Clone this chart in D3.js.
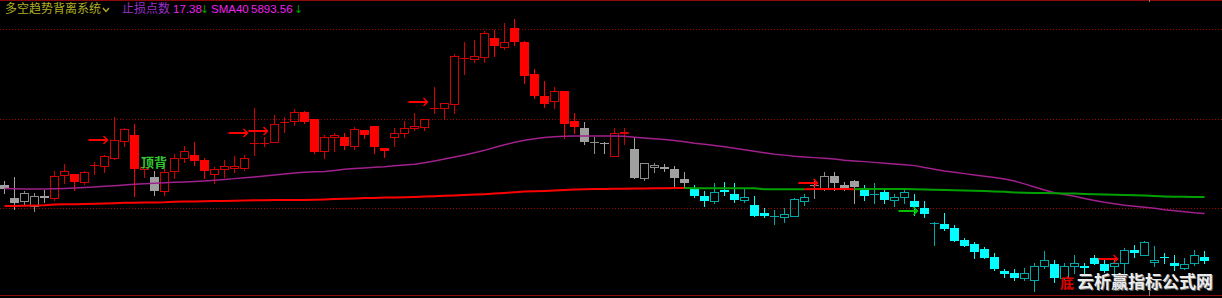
<!DOCTYPE html>
<html><head><meta charset="utf-8">
<script src="https://cdn.jsdelivr.net/npm/d3@7"></script>
<style>html,body{margin:0;padding:0;background:#000;overflow:hidden}</style>
</head><body>
<svg id="c" width="1222" height="298"></svg>
<script>
// ---- data (one entry per bar) ----
const openP = [
5922,5909.5,5906,5901.5,5911,5909.5,5932.5,5932.7,5925.3,5942,
5941,5948.7,5966.3,5972,5938,5930.3,5916.3,5936,5948.7,5952,
5947,5933,5938,5939.3,5939.3,5963.7,5963.7,5964.7,5985.3,5986,
5995.3,5988,5956,5969.7,5970.3,5961.3,5977,5981,5959.3,5969.7,
5973.7,5979.3,5980.3,5998.7,5998.7,6002.7,6048.7,6048.3,6050.3,6068.7,
6059.7,6079.3,6065.3,6032.7,6011,6006,6016.3,5986,5979.3,5964.7,
5964.5,5951.5,5973.7,5957.7,5929,5939.7,5940,5938,5927.7,5917.7,
5911,5906,5917,5912.7,5907,5902,5893.7,5891.3,5889.7,5891.3,
5906,5922.5,5918.7,5931,5922,5926,5919.3,5913,5914.7,5907,
5909.7,5906,5898.7,5883.7,5882.7,5878.7,5867,5863,5857.7,5849.7,
5836,5833.7,5828.7,5827,5841.3,5843,5828.7,5841.3,5841,5848.7,
5843,5841.3,5843.7,5857,5852,5844.7,5850,5844.3,5839.3,5843.7,
5849.7];
const highP = [
5926,5930,5916,5914.5,5917,5936,5943,5933.5,5936,5945.5,
5952,5990.3,5979.3,5983,5942,5936,5940,5953,5961,5964.7,
5949,5940,5947,5951,5952,5998.7,5970,5992,5990.3,5997.7,
5996,5988.5,5972,5974.3,5973.7,5979.7,5977.5,5981.5,5959.5,5979.3,
5986,5993.7,5988.5,6019.7,6004,6052.7,6065.3,6067,6076.3,6077,
6084.3,6088,6065.7,6037.7,6026,6019.7,6016.5,5993.7,5984.7,5970,
5965,5979.5,5979.5,5970,5944,5943.7,5942.7,5941,5934.7,5922,
5916,5923.7,5925.3,5923.7,5918,5911,5898.7,5897,5898.7,5909.3,
5913,5926,5934.7,5934.7,5925.3,5927,5922,5924.3,5917.7,5913,
5918.7,5912.7,5906,5885.3,5893.7,5882,5868.7,5865.3,5859.7,5853.7,
5838,5838,5839.3,5843.7,5856.3,5847,5844,5852,5843.7,5852,
5847,5847,5859.3,5862,5866.3,5861,5853.7,5852,5848.7,5857,
5856];
const lowP = [
5914.5,5898,5902,5896.5,5905,5907,5924,5917,5923.5,5933,
5935,5948,5961.3,5911,5930,5912,5912,5928.7,5945.3,5942,
5928.7,5923.7,5930.3,5935.3,5937,5952,5961,5964.7,5975.3,5982,
5983.7,5953.7,5948.7,5956,5958,5958,5968.7,5953.7,5950.3,5961.3,
5970.3,5977,5977,5993.7,5988,5993.7,6032.7,6045.3,6045.3,6051,
6057.7,6062,6024.3,6009.3,6000.3,5998.7,5968.7,5973.7,5962.7,5953.7,
5953.7,5951.5,5963.5,5928.7,5927.5,5935.5,5936.3,5920,5918.7,5910.3,
5901.3,5903.7,5912,5905.3,5905.3,5891,5890.3,5882.7,5885.3,5891,
5902,5909,5917,5917,5917,5903.7,5907,5903.7,5903.7,5901,
5903.7,5892,5890.3,5862,5877,5866,5861,5848.7,5848.7,5837,
5830.3,5827,5827,5816.3,5838.7,5825.3,5827,5833.7,5833.7,5842.7,
5835.3,5833.7,5833.7,5849.7,5852,5841,5844.3,5837,5838,5842,
5843.7];
const closeP = [
5918,5904,5914.5,5911.5,5909.5,5931,5936,5925.3,5935,5942,
5951,5967,5977.7,5937.7,5940,5916.3,5934.7,5948.7,5956,5946.3,
5936,5938,5941.3,5941.3,5948.7,5963.7,5963.7,5982.7,5985.3,5995.3,
5985.3,5955.3,5970.3,5972,5961.3,5977.7,5972,5959.7,5956,5973.7,
5979.3,5981,5988,5998.7,6003.7,6051,6048.7,6051,6073.7,6061.3,
6065.3,6065.3,6031.3,6011.3,6002.7,6016.3,5982.7,5980.3,5964.7,5964.7,
5963,5973.7,5975.3,5929,5943.7,5941.5,5937.7,5929.3,5923.7,5911.3,
5906,5914.7,5914.7,5907,5909.7,5891,5891,5891.3,5893,5907.7,
5909.7,5922.5,5931,5923.7,5919.3,5920.3,5911,5913,5907,5909.7,
5914.7,5900.3,5893,5883.7,5878,5866.3,5861,5855.3,5848.7,5837.7,
5832.7,5828.7,5833.7,5841.3,5847,5828.7,5841.3,5843.7,5839.3,5843,
5836,5843.7,5857,5853.7,5865.3,5847,5849,5841,5843,5852,
5846.3];
// candle state per bar: r = long, g = neutral, c = short
const barState = ("gggggrrrrr"+"rrrrrgrrrr"+"rrrrrrrrrr"+"rrrrrrrrrr"+"rrrrrrrrrr"+
  "rrrrrrrrgg"+"grrggggggc"+"cccccccccc"+"cgggggcccc"+"cccccccccc"+
  "cccccccccc"+"cccccccccc"+"c").split("");
// trailing stop line and its direction (u = long, d = short)
const stopLine = [
5901,5901,5901.2,5901.4,5901.7,5902.5,5902.7,5902.8,5903,5903.2,
5903.6,5903.8,5904.2,5904.3,5904.4,5904.5,5904.7,5905.2,5905.4,5905.5,
5905.7,5906,5906.1,5906.3,5906.5,5906.7,5906.8,5906.9,5906.9,5907,
5907.1,5907.3,5907.6,5908,5908.3,5908.6,5908.9,5909.1,5909.4,5909.6,
5909.8,5910.1,5910.4,5910.8,5911.2,5911.6,5912,5912.4,5912.8,5913.4,
5914,5914.8,5915.4,5915.7,5916,5916.4,5917,5917.4,5917.7,5917.9,
5918,5918.2,5918.3,5918.5,5918.6,5918.7,5918.8,5918.9,5919,5918.7,
5918.7,5918.7,5918.7,5918.7,5918.7,5918.7,5917.8,5917.8,5917.8,5917.8,
5917.8,5918,5918,5918,5918,5917.8,5917.9,5918,5918,5918,
5918,5917.8,5917.6,5917.3,5917,5916.7,5916.5,5916.2,5915.9,5915.5,
5915.2,5914.6,5914.2,5914,5913.9,5913.7,5913.6,5913.4,5913.1,5912.8,
5912.5,5912.2,5912,5911.7,5911.4,5911.1,5910.6,5910.3,5910.2,5910.1,
5910];
const stopDir = ("uuuuuuuuuu"+"uuuuuuuuuu"+"uuuuuuuuuu"+"uuuuuuuuuu"+"uuuuuuuuuu"+
  "uuuuuuuuuu"+"uuuuuuuudd"+"dddddddddd"+"uuuuuddddd"+"dddddddddd"+
  "dddddddddd"+"dddddddddd"+"d").split("");
// SMA40
const sma40 = [
5918.5,5918.2,5918,5918,5918,5918.2,5918.5,5919,5919.5,5920,
5920.7,5921.3,5922,5922.7,5923.3,5923.8,5924.2,5924.7,5925,5925.5,
5926,5926.7,5927.5,5928.4,5929.2,5930,5931,5932,5933,5934,
5934.8,5935.2,5935.5,5936.5,5937.7,5938.5,5939,5939.7,5940.2,5941.2,
5942,5942.7,5944.2,5946,5948,5950,5952,5954.3,5956.7,5959.5,
5962.2,5964.7,5966.8,5968.2,5969.5,5970.2,5970.7,5971,5971,5971,
5971,5971,5970.7,5969.8,5969,5968.2,5967.5,5966.5,5965.2,5963.8,
5962.7,5961.5,5960.2,5958.7,5957.2,5955.7,5954.2,5952.8,5951.9,5950.8,
5950,5949.4,5948.8,5948,5946.8,5946,5945.4,5944.6,5943.7,5943,
5942.3,5941.4,5939.5,5937.7,5936,5934.7,5933.4,5932,5930.7,5929.5,
5928,5926,5923.2,5920,5917,5914.3,5912.5,5910.7,5908.5,5906.5,
5904.7,5903.2,5901.8,5900.8,5899.8,5898.7,5897.3,5896.2,5895.3,5894.2,
5893.56];
// signal arrows
const arrowBars   = [10, 24, 26, 42, 81, 91, 111];
const arrowPrices = [5967, 5973.7, 5976.3, 6005.3, 5923.7, 5896.3, 5847.7];
const arrowKinds  = ["b","b","b","b","b","s","b"];
// divergence labels
const divTexts  = ["顶背", "底"];
const divBars   = [14, 106];
const divPrices = [5940.5, 5819.5];
const divKinds  = ["top", "bottom"];
// horizontal grid levels
const gridLevels = [6077.5, 5987.5, 5898.5];
// header values
const headerTitle = "多空趋势背离系统";
const stopLabel = "止损点数", stopValue = "17.38";
const smaLabel = "SMA40", smaValue = "5893.56";

// ---- drawing ----
const W = 1222, H = 298;
const svg = d3.select("#c");
svg.append("rect").attr("width", W).attr("height", H).attr("fill", "#000");

const x = d3.scaleLinear().domain([0, 120]).range([4.5, 1204.5]);
const y = d3.scaleLinear().domain([5809, 6107]).range([298, 0]);

// frame
svg.append("line").attr("x1",0).attr("x2",W).attr("y1",0.5).attr("y2",0.5).attr("stroke","#8c0a0a");
svg.append("line").attr("x1",0).attr("x2",W).attr("y1",295.5).attr("y2",295.5).attr("stroke","#8c0a0a");

// grid
svg.append("g").selectAll("line").data(gridLevels).join("line")
  .attr("x1",0).attr("x2",W)
  .attr("y1",d=>Math.floor(y(d))+0.5).attr("y2",d=>Math.floor(y(d))+0.5)
  .attr("stroke","#a00000").attr("stroke-dasharray","1,2");

const pal = {
  r:{fill:"#ff0000", line:"#d40000"},
  g:{fill:"#a0a0a0", line:"#8c8c8c"},
  c:{fill:"#00ffff", line:"#00a8a8"}
};

const gC = svg.append("g");
openP.forEach((o,i)=>{
  const c = closeP[i], h = highP[i], l = lowP[i];
  const st = pal[barState[i]];
  const cx = x(i);
  const top = Math.round(y(Math.max(o,c)));
  const bot = Math.round(y(Math.min(o,c)));
  const yh = Math.round(y(h)), yl = Math.round(y(l));
  const up = c >= o;
  if (!up) {
    gC.append("line").attr("x1",cx).attr("x2",cx).attr("y1",yh).attr("y2",yl+1)
      .attr("stroke",st.fill);
    gC.append("rect").attr("x",cx-4.5).attr("y",top).attr("width",9)
      .attr("height",Math.max(1,bot-top)).attr("fill",st.fill);
  } else if (bot - top < 2) {
    gC.append("line").attr("x1",cx).attr("x2",cx).attr("y1",yh).attr("y2",yl+1)
      .attr("stroke",st.line);
    gC.append("line").attr("x1",cx-4.5).attr("x2",cx+4.5).attr("y1",top+0.5).attr("y2",top+0.5)
      .attr("stroke",st.line);
    if (bot > top) gC.append("line").attr("x1",cx-4.5).attr("x2",cx+4.5).attr("y1",bot+0.5).attr("y2",bot+0.5)
      .attr("stroke",st.line);
  } else {
    if (yh < top) gC.append("line").attr("x1",cx).attr("x2",cx).attr("y1",yh).attr("y2",top)
      .attr("stroke",st.line);
    if (yl > bot) gC.append("line").attr("x1",cx).attr("x2",cx).attr("y1",bot+1).attr("y2",yl+1)
      .attr("stroke",st.line);
    gC.append("rect").attr("x",cx-4).attr("y",top+0.5).attr("width",8)
      .attr("height",bot-top).attr("fill","none").attr("stroke",st.line);
  }
});

// SMA40 line
svg.append("path").datum(sma40)
  .attr("d", d3.line().x((d,i)=>x(i)).y(d=>y(d)))
  .attr("fill","none").attr("stroke","#a0208c").attr("stroke-width",1.4);

// stop line, coloured by direction
let runStart = 0;
for (let i = 1; i <= stopDir.length; i++) {
  if (i === stopDir.length || stopDir[i] !== stopDir[runStart]) {
    const end = Math.min(i, stopLine.length - 1);
    const idx = d3.range(runStart, end + 1);
    svg.append("path").datum(idx)
      .attr("d", d3.line().x(j=>x(j)).y(j=>y(stopLine[j])))
      .attr("fill","none")
      .attr("stroke", stopDir[runStart] === "u" ? "#ff0000" : "#00a000")
      .attr("stroke-width",2);
    runStart = i;
  }
}

// arrows
const gA = svg.append("g");
arrowBars.forEach((b,k)=>{
  const tip = x(b) + 3, yy = Math.round(y(arrowPrices[k]));
  const col = arrowKinds[k] === "b" ? "#ff0000" : "#00c000";
  gA.append("line").attr("x1",tip-19).attr("x2",tip).attr("y1",yy).attr("y2",yy)
    .attr("stroke",col).attr("stroke-width",2);
  gA.append("path").attr("d",`M${tip-4},${yy-4}L${tip},${yy}L${tip-4},${yy+4}`)
    .attr("fill","none").attr("stroke",col).attr("stroke-width",1.5);
});

// divergence labels
divTexts.forEach((t,k)=>{
  const top = divKinds[k] === "top";
  svg.append("text").attr("x", x(divBars[k]) - (top ? 3.5 : 4.5)).attr("y", y(divPrices[k]))
    .attr("fill", top ? "#30c830" : "#e00000")
    .attr("font-family","'Noto Sans CJK SC'")
    .attr("font-weight","bold")
    .attr("font-size", top ? 13 : 14)
    .text(t);
});

// cursor marks
const cur = x(114) + 5;
svg.append("line").attr("x1",cur).attr("x2",cur).attr("y1",0).attr("y2",2).attr("stroke","#808080");
svg.append("line").attr("x1",cur).attr("x2",cur).attr("y1",288).attr("y2",296).attr("stroke","#808080");

// watermark
const wm = "云析赢指标公式网";
svg.append("text").attr("x",1078).attr("y",289).attr("fill","#707070")
  .attr("font-family","'Noto Sans CJK SC'").attr("font-weight","bold").attr("font-size",17).text(wm);
svg.append("text").attr("x",1077).attr("y",288).attr("fill","#ececec")
  .attr("font-family","'Noto Sans CJK SC'").attr("font-weight","bold").attr("font-size",17).text(wm);

// header
const hdr = svg.append("g").attr("font-size",12);
hdr.append("text").attr("x",5).attr("y",12.5).attr("fill","#b0b020")
  .attr("font-family","'Noto Sans CJK SC'").text(headerTitle);
hdr.append("path").attr("d","M103,8L106,11.5L109,8").attr("fill","none").attr("stroke","#b0b020").attr("stroke-width",1.3);
hdr.append("text").attr("x",122).attr("y",12.5).attr("fill","#9a30c8")
  .attr("font-family","'Noto Sans CJK SC'").text(stopLabel);
hdr.append("text").attr("x",173).attr("y",13).attr("fill","#f020f0")
  .attr("font-family","'Liberation Sans'").attr("font-size",11.5).text(stopValue);
hdr.append("text").attr("x",200).attr("y",13).attr("fill","#00a000")
  .attr("font-family","'DejaVu Sans'").attr("font-size",11).text("↓");
hdr.append("text").attr("x",211).attr("y",13).attr("fill","#f020f0")
  .attr("font-family","'Liberation Sans'").attr("font-size",11.5).text(smaLabel);
hdr.append("text").attr("x",251).attr("y",13).attr("fill","#f020f0")
  .attr("font-family","'Liberation Sans'").attr("font-size",11.5).text(smaValue);
hdr.append("text").attr("x",294).attr("y",13).attr("fill","#00a000")
  .attr("font-family","'DejaVu Sans'").attr("font-size",11).text("↓");
</script>
</body></html>
